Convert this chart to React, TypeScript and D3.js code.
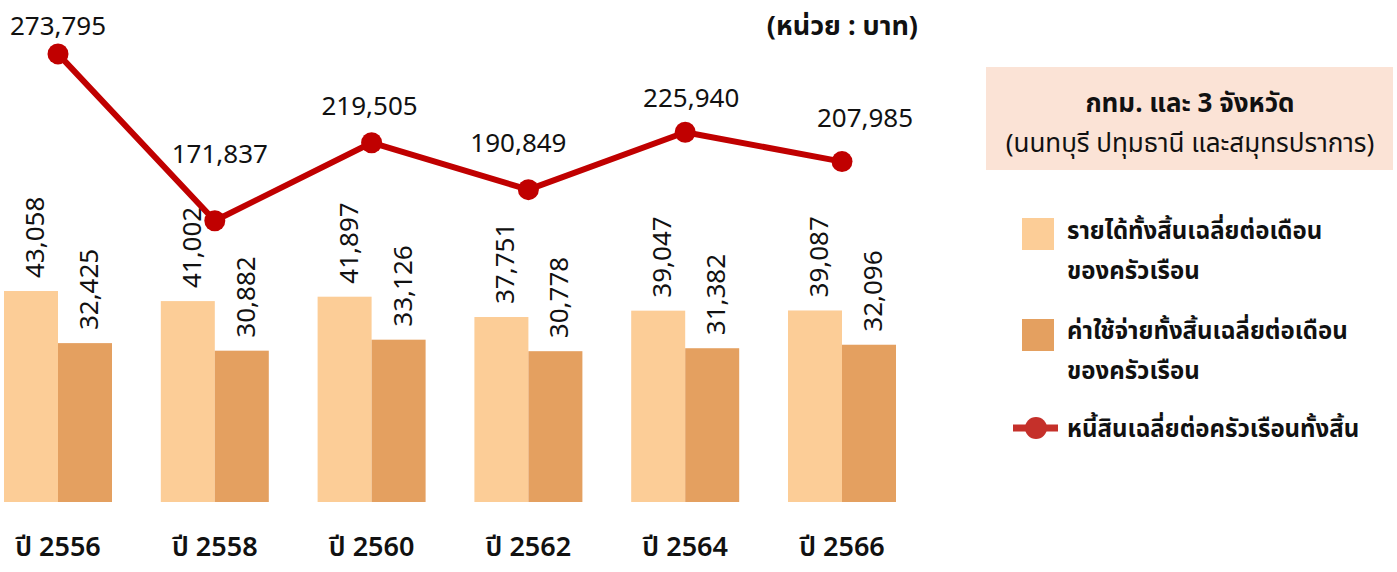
import React from 'react';
import * as d3 from 'd3';

// ข้อมูล
const years = ['ปี 2556', 'ปี 2558', 'ปี 2560', 'ปี 2562', 'ปี 2564', 'ปี 2566'];
const income = [43058, 41002, 41897, 37751, 39047, 39087];
const expense = [32425, 30882, 33126, 30778, 31382, 32096];
const debt = [273795, 171837, 219505, 190849, 225940, 207985];

const seriesKeys = ['income', 'expense'];
const legendIncome = ['รายได้ทั้งสิ้นเฉลี่ยต่อเดือน', 'ของครัวเรือน'];
const legendExpense = ['ค่าใช้จ่ายทั้งสิ้นเฉลี่ยต่อเดือน', 'ของครัวเรือน'];
const legendDebt = 'หนี้สินเฉลี่ยต่อครัวเรือนทั้งสิ้น';
const boxTitle = 'กทม. และ 3 จังหวัด';
const boxSubtitle = '(นนทบุรี ปทุมธานี และสมุทรปราการ)';
const unitLabel = '(หน่วย : บาท)';

// label nudges for the line values (layout only)
const debtLabelShift = [[0, -19], [5, -58], [-2, -28], [-10, -38], [6, -25], [23, -35]];

const W = 1397;
const H = 572;
const FONT = '"Noto Sans Thai", "Noto Sans", "DejaVu Sans", sans-serif';
const C_INCOME = '#FCCD97';
const C_EXPENSE = '#E4A060';
const C_LINE = '#C00000';

const fmt = d3.format(',');

export default function App() {
  const x = d3.scalePoint().domain(years).range([58, 842]);
  const inner = d3.scaleBand().domain(seriesKeys).range([-54, 54]);
  const yBar = d3.scaleLinear().domain([0, 50000]).range([502, 257]);
  const yLine = d3.scaleLinear().domain([0, 300000]).range([502, 11]);

  const line = d3.line<number>()
    .x((_, i) => x(years[i]) as number)
    .y(d => yLine(d));

  const values = [income, expense];
  const colors = [C_INCOME, C_EXPENSE];

  return (
    <svg width={W} height={H} style={{ position: 'absolute', left: 0, top: 0, display: 'block' }}
      fontFamily={FONT}>
      <rect width={W} height={H} fill="#fff" />

      {/* bars */}
      {years.map((yr, i) => (
        <g key={yr}>
          {seriesKeys.map((k, s) => {
            const v = values[s][i];
            const bx = (x(yr) as number) + (inner(k) as number);
            const bw = inner.bandwidth();
            const top = yBar(v);
            return (
              <g key={k}>
                <rect x={bx} y={top} width={bw} height={yBar(0) - top} fill={colors[s]} />
                <text transform={`translate(${bx + bw / 2 + 13},${top - 13}) rotate(-90)`}
                  fontSize={26} fill="#111">{fmt(v)}</text>
              </g>
            );
          })}
          <text x={x(yr)} y={556} textAnchor="middle" fontSize={27} fontWeight={600} fill="#111">{yr}</text>
        </g>
      ))}

      {/* debt line */}
      <path d={line(debt) || ''} fill="none" stroke={C_LINE} strokeWidth={6} strokeLinejoin="round" />
      {debt.map((v, i) => (
        <g key={i}>
          <circle cx={x(years[i])} cy={yLine(v)} r={10.5} fill={C_LINE} />
          <text x={(x(years[i]) as number) + debtLabelShift[i][0]} y={yLine(v) + debtLabelShift[i][1]}
            textAnchor="middle" fontSize={26} fill="#111">{fmt(v)}</text>
        </g>
      ))}

      <text x={918} y={35} textAnchor="end" fontSize={27} fontWeight={700} fill="#111">{unitLabel}</text>

      {/* legend */}
      <rect x={986} y={67} width={407} height={103} fill="#FBE3D6" />
      <text x={1190} y={112} textAnchor="middle" fontSize={26} fontWeight={700} fill="#111">{boxTitle}</text>
      <text x={1190} y={152} textAnchor="middle" fontSize={26} fill="#111">{boxSubtitle}</text>

      <rect x={1022} y={218} width={32} height={32} fill={C_INCOME} />
      {legendIncome.map((t, j) => (
        <text key={t + j} x={1067} y={239 + j * 40} fontSize={24} fontWeight={700} fill="#111">{t}</text>
      ))}
      <rect x={1022} y={319} width={32} height={32} fill={C_EXPENSE} />
      {legendExpense.map((t, j) => (
        <text key={t + j} x={1067} y={339 + j * 40} fontSize={24} fontWeight={700} fill="#111">{t}</text>
      ))}
      <line x1={1013} x2={1058} y1={428} y2={428} stroke="#C5302A" strokeWidth={7} />
      <circle cx={1036} cy={428} r={11} fill="#C5302A" />
      <text x={1067} y={437} fontSize={24} fontWeight={700} fill="#111">{legendDebt}</text>
    </svg>
  );
}
